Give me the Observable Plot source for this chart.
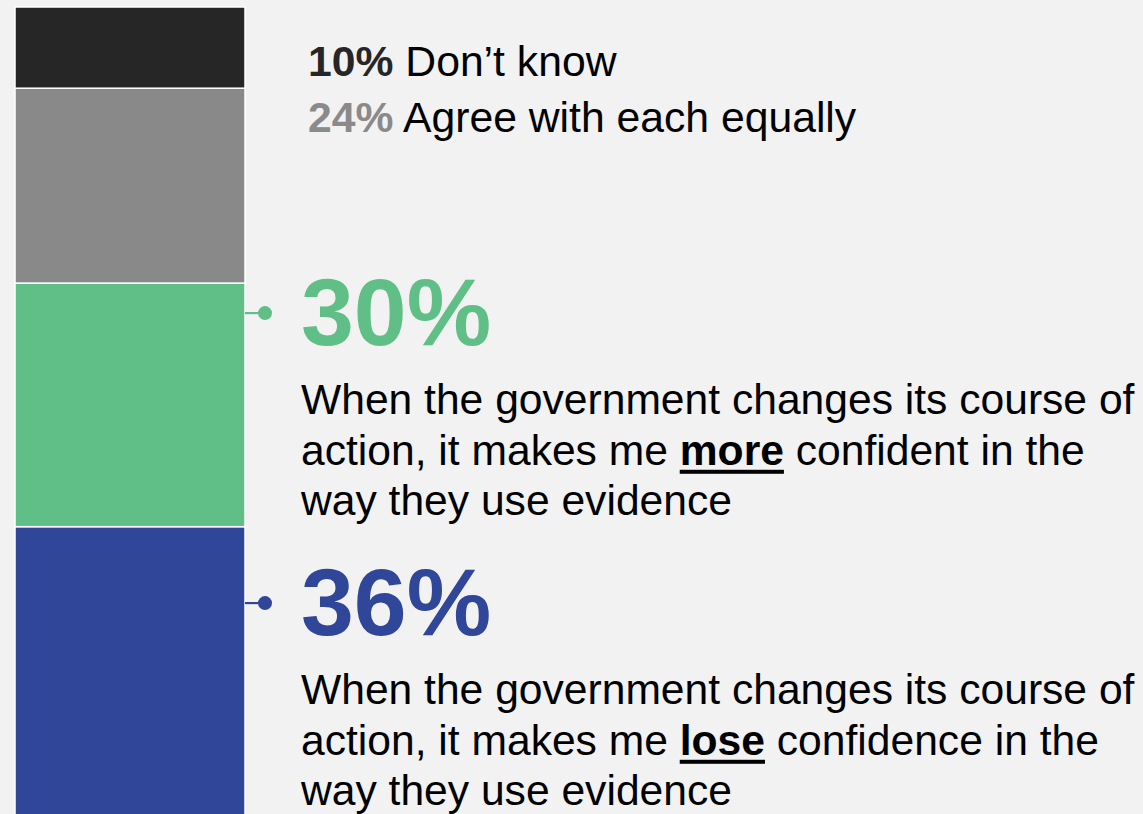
<!DOCTYPE html>
<html><head><meta charset="utf-8">
<script src="https://cdn.jsdelivr.net/npm/d3@7"></script>
<script src="https://cdn.jsdelivr.net/npm/@observablehq/plot@0.6"></script>
<style>
html,body{margin:0;padding:0;background:#f2f2f2;overflow:hidden;}
#chart svg{display:block;}
</style></head><body><div id="chart"></div>
<script>
// ---- data ----
const categories = ["Lose confidence", "More confident", "Agree with each equally", "Don't know"];
const values = [36, 30, 24, 10];
const colors = ["#2f4699", "#5fbf86", "#898989", "#262626"];
const pctLabels = ["36%", "30%", "24%", "10%"];

// small legend-style labels at the top (Don't know, Agree equally)
const smallLabels = [
  {pct: "10%", text: " Don\u2019t know", color: "#262626"},
  {pct: "24%", text: " Agree with each equally", color: "#8a8a8a"}
];

// big annotations (More confident, Lose confidence)
const moreLines = [
  [{t: "When the government changes its course of"}],
  [{t: "action, it makes me "}, {t: "more", b: true, u: true}, {t: " confident in the"}],
  [{t: "way they use evidence"}]
];
const loseLines = [
  [{t: "When the government changes its course of"}],
  [{t: "action, it makes me "}, {t: "lose", b: true, u: true}, {t: " confidence in the"}],
  [{t: "way they use evidence"}]
];

const data = categories.map((c, i) => ({category: c, value: values[i], group: "all"}));

const W = 1143, H = 814;
const FONT = "'Liberation Sans', Arial, Helvetica, sans-serif";

const chart = Plot.plot({
  width: W, height: H,
  margin: 0,
  style: {background: "#f2f2f2", fontFamily: FONT},
  x: {type: "band", domain: ["all"], range: [15, 245], padding: 0, axis: null},
  y: {domain: [0, 100], range: [819, 7], axis: null},
  color: {domain: categories, range: colors},
  marks: [
    Plot.barY(data, {x: "group", y: "value", fill: "category", stroke: "white", strokeWidth: 1.5, inset: 0})
  ]
});
document.getElementById("chart").appendChild(chart);

const svg = d3.select(chart);
const y = chart.scale("y");
const xs = chart.scale("x");
const barRight = xs.apply("all") + xs.bandwidth;

// stacked tops
let cum = 0;
const tops = values.map(v => (cum += v));

// ---- top small labels ----
const small = svg.append("g").attr("font-family", FONT).attr("font-size", 42.7).attr("text-anchor", "start");
smallLabels.forEach((d, i) => {
  const t = small.append("text").attr("x", 308).attr("y", 76 + i * 56);
  t.append("tspan").attr("font-weight", "bold").attr("fill", d.color).text(d.pct);
  t.append("tspan").attr("fill", "#000").text(d.text);
});

// ---- big annotations ----
function annotate(base, pct, color, lines) {
  const g = svg.append("g").attr("font-family", FONT).attr("text-anchor", "start");
  const mid = base - 32;        // connector height (middle of digits)
  g.append("line").attr("x1", barRight).attr("x2", 265).attr("y1", mid).attr("y2", mid)
    .attr("stroke", color).attr("stroke-width", 2.2);
  g.append("circle").attr("cx", 265).attr("cy", mid).attr("r", 7).attr("fill", color);
  g.append("text").attr("x", 301).attr("y", base).attr("font-size", 95).attr("font-weight", "bold")
    .attr("fill", color).text(pct);
  lines.forEach((segs, li) => {
    const ly = base + 69 + li * 50.7;
    const t = g.append("text").attr("x", 301).attr("y", ly).attr("font-size", 42.6).attr("fill", "#000");
    const spans = segs.map(s => {
      const sp = t.append("tspan").text(s.t);
      if (s.b) sp.attr("font-weight", "bold");
      return {sp, s};
    });
    spans.forEach(({sp, s}) => {
      if (s.u) {
        const n = s.t.length;
        const node = sp.node();
        const x0 = node.getStartPositionOfChar(0).x;
        const x1 = node.getEndPositionOfChar(n - 1).x;
        g.append("rect").attr("x", x0).attr("y", ly + 5).attr("width", x1 - x0).attr("height", 4).attr("fill", "#000");
      }
    });
  });
}

const greenBase = y.apply(tops[1]) + 62;
annotate(greenBase, pctLabels[1], colors[1], moreLines);
annotate(greenBase + 290, pctLabels[0], colors[0], loseLines);
</script>
</body></html>
